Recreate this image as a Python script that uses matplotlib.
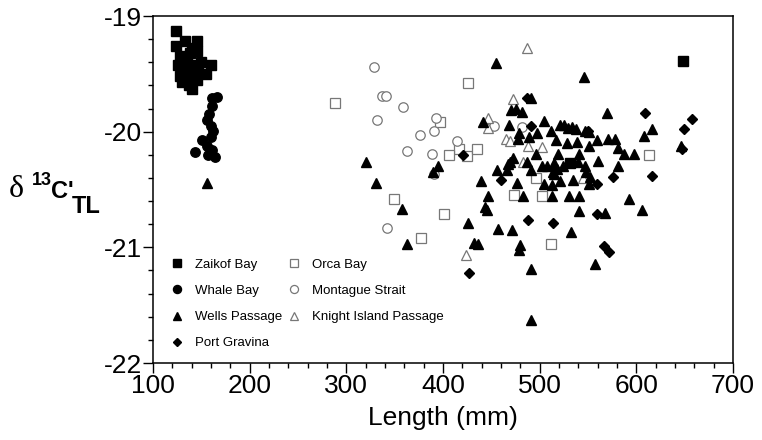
import matplotlib
matplotlib.use("Agg")
import matplotlib.pyplot as plt
from matplotlib.ticker import MultipleLocator
from matplotlib.lines import Line2D

plt.rcParams['font.family'] = ['Liberation Sans', 'DejaVu Sans']
plt.rcParams['axes.unicode_minus'] = False

# ---- data: fish length (mm) and delta 13C' values by collection site ----
zaikof_len = [124, 124, 133, 140, 138, 128, 135, 145, 146, 126, 132, 140, 150, 128, 135,
              142, 147, 155, 160, 130, 137, 140, 145, 531, 648]
zaikof_d13c = [-19.13, -19.26, -19.22, -19.28, -19.32, -19.35, -19.38, -19.22, -19.30, -19.42,
               -19.45, -19.42, -19.40, -19.52, -19.50, -19.52, -19.48, -19.50, -19.42, -19.57,
               -19.60, -19.63, -19.55, -20.27, -19.39]

whale_len = [166, 161, 160.7, 158, 156.2, 160, 162.4, 150.4, 155.5, 160, 143.4, 157.2, 164.1, 161]
whale_d13c = [-19.70, -19.71, -19.78, -19.85, -19.90, -19.95, -19.99, -20.07, -20.12, -20.05,
              -20.18, -20.20, -20.22, -20.16]

wells_len = [156.2, 320.3, 330.7, 395.1, 389.3, 357.3, 362.4, 426.2, 432.4, 436.5,
             439.0, 454.8, 546.2, 491.0, 470.3, 475.5, 481.7, 441.7, 468.5, 504.8,
             478.2, 496.9, 511.7, 521.0, 525.5, 529.6, 533.1, 537.6, 546.9, 551.3,
             478.0, 489.3, 516.9, 527.9, 538.2, 558.9, 472.7, 496.2, 519.3, 540.9,
             551.3, 466.8, 469.3, 486.5, 502.0, 507.1, 515.0, 517.5, 524.3, 539.9,
             546.9, 455.4, 465.7, 491.0, 514.0, 514.7, 476.8, 504.5, 512.4, 521.0,
             534.8, 551.0, 446.1, 483.0, 512.4, 530.6, 540.9, 443.4, 445.8, 457.2,
             470.9, 540.9, 532.4, 479.7, 478.6, 490.6, 557.2, 490.6, 569.3, 615.9,
             607.9, 646.2, 571.0, 578.3, 580.7, 587.2, 597.6, 560.0, 580.7, 592.7,
             605.5, 567.6, 552.0, 548.0]
wells_d13c = [-20.44, -20.26, -20.44, -20.30, -20.35, -20.67, -20.97, -20.79, -20.96, -20.97,
              -20.43, -19.41, -19.53, -19.71, -19.81, -19.80, -19.83, -19.92, -19.94, -19.91,
              -20.01, -20.01, -19.99, -19.94, -19.94, -19.97, -19.96, -19.98, -19.99, -20.00,
              -20.06, -20.05, -20.07, -20.10, -20.09, -20.07, -20.23, -20.19, -20.19, -20.19,
              -20.12, -20.28, -20.26, -20.26, -20.30, -20.30, -20.27, -20.32, -20.30, -20.26,
              -20.30, -20.33, -20.33, -20.33, -20.35, -20.37, -20.44, -20.45, -20.46, -20.43,
              -20.42, -20.45, -20.56, -20.56, -20.56, -20.56, -20.56, -20.65, -20.68, -20.84,
              -20.85, -20.69, -20.87, -20.98, -21.02, -21.19, -21.14, -21.63, -19.84, -19.98,
              -20.04, -20.12, -20.06, -20.06, -20.14, -20.19, -20.19, -20.25, -20.30, -20.58,
              -20.68, -20.70, -20.39, -20.35]

gravina_len = [420.3, 487.3, 490.6, 549.5, 460.5, 488.3, 513.4, 558.9, 426.9, 609.0,
               657.2, 649.3, 647.2, 576.1, 616.2, 559.6, 566.9, 571.7]
gravina_d13c = [-20.20, -19.71, -19.95, -19.99, -20.42, -20.76, -20.79, -20.71, -21.22, -19.84,
                -19.89, -19.98, -20.15, -20.39, -20.38, -20.45, -20.99, -21.04]

orca_len = [288.3, 426.2, 397.1, 416.8, 406.2, 425.2, 435.5, 349.3, 401.4, 377.2,
            496.2, 473.8, 502.0, 511.7, 612.8]
orca_d13c = [-19.75, -19.58, -19.92, -20.15, -20.20, -20.21, -20.15, -20.58, -20.71, -20.92,
             -20.40, -20.55, -20.56, -20.97, -20.20]

montague_len = [328.9, 336.6, 341.0, 358.3, 331.4, 392.4, 390.3, 376.2, 414.8, 362.4,
                389.0, 390.3, 342.4, 452.8, 481.7]
montague_d13c = [-19.44, -19.69, -19.69, -19.79, -19.90, -19.88, -19.99, -20.03, -20.08, -20.17,
                 -20.19, -20.37, -20.83, -19.95, -19.96]

knight_len = [486.5, 472.0, 446.9, 446.2, 465.2, 469.3, 487.6, 502.0, 483.0, 544.5, 423.8]
knight_d13c = [-19.28, -19.72, -19.88, -19.97, -20.06, -20.08, -20.12, -20.13, -20.26, -20.40,
               -21.07]

# ---- figure ----
W, H = 762, 440
fig = plt.figure(figsize=(W / 100, H / 100), dpi=100)
ax = fig.add_axes([153 / W, 1 - 363 / H, 580 / W, 347 / H])

gray = '#777777'
filled = dict(color='black', linestyle='none')
hollow = dict(color=gray, markerfacecolor='white', markeredgecolor=gray,
              markeredgewidth=0.9, linestyle='none')

ax.plot(orca_len, orca_d13c, 's', ms=6.5, **hollow)
ax.plot(montague_len, montague_d13c, 'o', ms=6.8, **hollow)
ax.plot(knight_len, knight_d13c, '^', ms=7.0, **hollow)
ax.plot(zaikof_len, zaikof_d13c, 's', ms=6.5, **filled)
ax.plot(whale_len, whale_d13c, 'o', ms=6.8, **filled)
ax.plot(wells_len, wells_d13c, '^', ms=7.0, **filled)
ax.plot(gravina_len, gravina_d13c, 'D', ms=4.6, **filled)

ax.set_xlim(100, 700)
ax.set_ylim(-22, -19)
ax.xaxis.set_major_locator(MultipleLocator(100))
ax.xaxis.set_minor_locator(MultipleLocator(20))
ax.yaxis.set_major_locator(MultipleLocator(1))
ax.yaxis.set_minor_locator(MultipleLocator(0.2))
ax.tick_params(which='both', direction='out', top=False, right=False, width=1.0)
ax.tick_params(which='major', length=7, labelsize=19, pad=1)
ax.tick_params(which='minor', length=3.5)
for s in ax.spines.values():
    s.set_linewidth(1.1)

ax.set_xlabel('Length (mm)', fontsize=19, labelpad=6)

# y-axis label assembled from pieces
fig.text(9 / W, 1 - 197 / H, 'δ', fontsize=23, family='Liberation Serif', va='baseline')
fig.text(32 / W, 1 - 185 / H, '13', fontsize=13, fontweight='bold', va='baseline')
fig.text(51 / W, 1 - 198 / H, "C'", fontsize=17, fontweight='bold', va='baseline')
fig.text(72 / W, 1 - 213 / H, 'TL', fontsize=17, fontweight='bold', va='baseline')

# legend
handles = [
    Line2D([], [], marker='s', ms=5.5, **filled),
    Line2D([], [], marker='o', ms=5.8, **filled),
    Line2D([], [], marker='^', ms=6.0, **filled),
    Line2D([], [], marker='D', ms=4.0, **filled),
    Line2D([], [], marker='s', ms=5.5, **hollow),
    Line2D([], [], marker='o', ms=5.8, **hollow),
    Line2D([], [], marker='^', ms=6.0, **hollow),
]
labels = ['Zaikof Bay', 'Whale Bay', 'Wells Passage', 'Port Gravina',
          'Orca Bay', 'Montague Strait', 'Knight Island Passage']
ax.legend(handles, labels, ncol=2, loc='lower left', bbox_to_anchor=(0.014, 0.013),
          frameon=False, fontsize=9.5, handlelength=1.0, handletextpad=0.85,
          columnspacing=0.4, labelspacing=1.05, borderaxespad=0.3)

fig.savefig('out.png', dpi=100)
